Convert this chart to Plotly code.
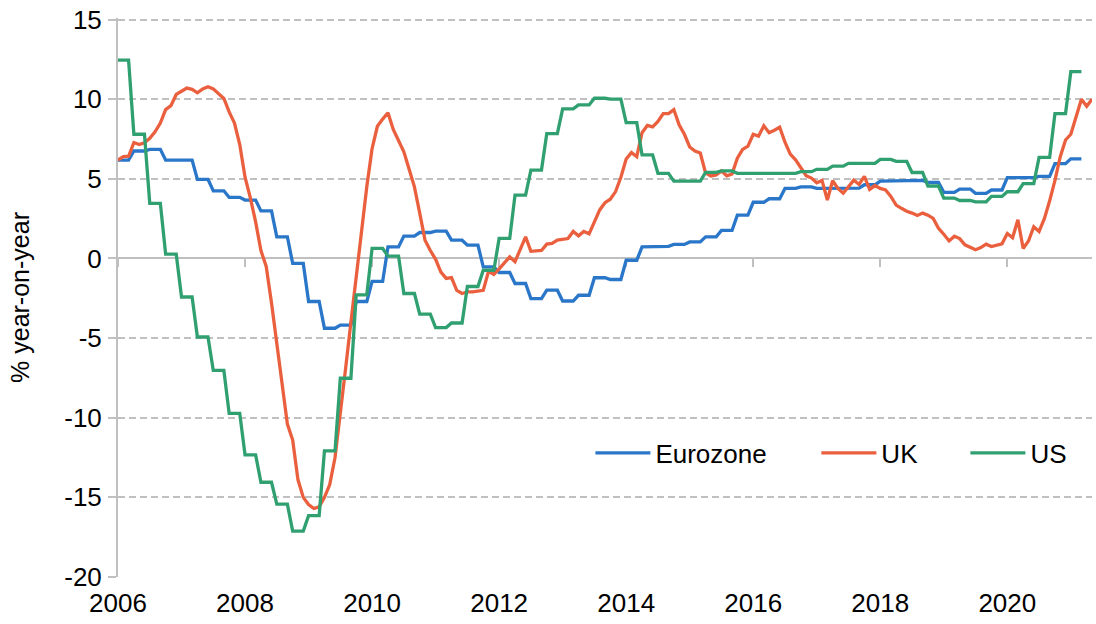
import plotly.graph_objects as go

# ---------------- data ----------------
start_year = 2006
n_months = 185  # Jan 2006 .. May 2021

tick_years = [2006, 2008, 2010, 2012, 2014, 2016, 2018, 2020]
tick_labels = ["2006", "2008", "2010", "2012", "2014", "2016", "2018", "2020"]
y_ticks = [-20, -15, -10, -5, 0, 5, 10, 15]
y_tick_labels = ["-20", "-15", "-10", "-5", "0", "5", "10", "15"]

# quarterly series, Q1 2006 .. Q1 2021 (shown monthly, held over each quarter)
eurozone_q = [
    6.18, 6.75, 6.85, 6.18,
    6.18, 4.97, 4.25, 3.84,
    3.67, 2.99, 1.36, -0.31,
    -2.70, -4.38, -4.18, -2.70,
    -1.44, 0.73, 1.41, 1.63,
    1.72, 1.15, 0.84, -0.53,
    -0.88, -1.57, -2.52, -1.99,
    -2.67, -2.31, -1.21, -1.32,
    -0.11, 0.73, 0.76, 0.88,
    1.04, 1.36, 1.76, 2.72,
    3.53, 3.75, 4.40, 4.50,
    4.40, 4.40, 4.42, 4.63,
    4.86, 4.88, 4.90, 4.78,
    4.15, 4.36, 4.09, 4.30,
    5.08, 5.08, 5.15, 5.95,
    6.26,
]

us_q = [
    12.45, 7.80, 3.46, 0.27,
    -2.42, -4.93, -7.03, -9.73,
    -12.33, -14.05, -15.43, -17.12,
    -16.15, -12.08, -7.52, -2.28,
    0.63, 0.15, -2.20, -3.50,
    -4.34, -4.05, -1.76, -0.74,
    1.26, 3.98, 5.55, 7.84,
    9.39, 9.64, 10.06, 10.00,
    8.53, 6.50, 5.35, 4.86,
    4.86, 5.41, 5.50, 5.35,
    5.35, 5.35, 5.35, 5.45,
    5.60, 5.80, 5.97, 5.97,
    6.22, 6.10, 5.40, 4.55,
    3.79, 3.64, 3.55, 3.90,
    4.19, 4.70, 6.35, 9.10,
    11.73,
]

# monthly series, Jan 2006 .. May 2021
uk_m = [
    6.18, 6.40, 6.42, 7.28, 7.15, 7.27, 7.55, 7.95, 8.50, 9.35,
    9.60, 10.30, 10.50, 10.70, 10.62, 10.40, 10.65, 10.78, 10.65, 10.35,
    10.05, 9.20, 8.50, 7.15, 5.10, 3.80, 2.30, 0.50, -0.50, -2.80,
    -5.30, -8.00, -10.40, -11.40, -13.90, -15.00, -15.45, -15.70, -15.60, -15.00,
    -14.20, -12.50, -9.90, -6.90, -4.00, -1.10, 1.80, 4.50, 6.90, 8.30,
    8.75, 9.15, 8.10, 7.45, 6.70, 5.60, 4.50, 2.85, 1.15, 0.50,
    -0.05, -0.85, -1.25, -1.20, -2.00, -2.20, -2.10, -2.10, -2.05, -2.00,
    -0.80, -1.00, -0.65, -0.25, 0.10, -0.20, 0.60, 1.36, 0.45, 0.50,
    0.50, 0.90, 0.94, 1.15, 1.20, 1.25, 1.70, 1.42, 1.70, 1.55,
    2.30, 3.05, 3.50, 3.72, 4.20, 5.10, 6.25, 6.65, 6.40, 7.90,
    8.35, 8.26, 8.60, 9.10, 9.10, 9.35, 8.40, 7.80, 7.00, 6.75,
    6.62, 5.37, 5.18, 5.24, 5.50, 5.19, 5.30, 6.30, 6.85, 7.05,
    7.80, 7.68, 8.33, 7.90, 8.05, 8.24, 7.30, 6.55, 6.20, 5.70,
    5.20, 5.05, 4.75, 4.90, 3.67, 4.88, 4.40, 4.10, 4.50, 4.92,
    4.65, 5.15, 4.34, 4.58, 4.40, 4.30, 3.90, 3.35, 3.15, 2.97,
    2.85, 2.70, 2.85, 2.72, 2.52, 1.90, 1.52, 1.10, 1.40, 1.25,
    0.86, 0.70, 0.55, 0.68, 0.90, 0.75, 0.82, 0.92, 1.57, 1.30,
    2.43, 0.63, 1.10, 1.99, 1.70, 2.50, 3.62, 4.90, 6.39, 7.44,
    7.80, 8.90, 10.00, 9.56, 10.00,
]

# ---------------- helpers ----------------
def month_x(m):
    return start_year + m / 12.0

def quarterly_to_monthly(values):
    xs, ys = [], []
    for q, v in enumerate(values):
        for k in range(3):
            xs.append(month_x(3 * q + k))
            ys.append(v)
    return xs, ys

ez_x, ez_y = quarterly_to_monthly(eurozone_q)
us_x, us_y = quarterly_to_monthly(us_q)
uk_x = [month_x(m) for m in range(len(uk_m))]

x_range = [start_year, month_x(n_months - 1)]
y_range = [-20, 15.1]

BLUE = "#2a77c9"
ORANGE = "#ea603e"
GREEN = "#31a071"
GRID = "#c0c0c0"
FONT = "Liberation Sans, Arial, sans-serif"

fig = go.Figure()
fig.add_trace(go.Scatter(x=ez_x, y=ez_y, mode="lines", name="Eurozone",
                         line=dict(color=BLUE, width=3.3), legend="legend"))
fig.add_trace(go.Scatter(x=uk_x, y=uk_m, mode="lines", name="UK",
                         line=dict(color=ORANGE, width=3.3), legend="legend2"))
fig.add_trace(go.Scatter(x=us_x, y=us_y, mode="lines", name="US", xaxis="x2",
                         line=dict(color=GREEN, width=3.3), legend="legend3"))

legend_common = dict(orientation="h", yanchor="middle", xanchor="left",
                     y=0.222, bgcolor="rgba(0,0,0,0)",
                     font=dict(size=26, color="#000000", family=FONT),
                     itemwidth=55)

fig.update_layout(
    width=1096, height=624,
    margin=dict(l=118, r=4, t=18, b=47),
    paper_bgcolor="white", plot_bgcolor="white",
    font=dict(family=FONT, color="#000000"),
    showlegend=True,
    legend=dict(x=0.485, **legend_common),
    legend2=dict(x=0.717, **legend_common),
    legend3=dict(x=0.870, **legend_common),
    xaxis=dict(
        range=x_range, tickvals=tick_years, ticktext=tick_labels,
        showgrid=False, showline=False, zeroline=False, ticks="",
        tickfont=dict(size=26, color="#000000"), ticklabelstandoff=8,
        ticklabeloverflow="allow",
        automargin=False, layer="below traces",
    ),
    xaxis2=dict(
        range=x_range, overlaying="x", anchor="free",
        position=(0 - y_range[0]) / (y_range[1] - y_range[0]),
        tickvals=tick_years, showticklabels=False, ticks="outside",
        ticklen=8, tickwidth=2, tickcolor=GRID,
        showline=True, linecolor=GRID, linewidth=2,
        showgrid=False, zeroline=False, automargin=False, layer="below traces",
    ),
    yaxis=dict(
        range=y_range, tickvals=y_ticks, ticktext=y_tick_labels,
        showgrid=True, gridcolor=GRID, gridwidth=1.6, griddash="7px,4px",
        zeroline=False, showline=True, linecolor=GRID, linewidth=2,
        ticks="outside", ticklen=8, tickwidth=2, tickcolor=GRID,
        tickfont=dict(size=26, color="#000000"), ticklabelstandoff=1,
        ticklabeloverflow="allow",
        title=dict(text="% year-on-year", font=dict(size=25, color="#000000"),
                   standoff=27),
        automargin=False, layer="below traces",
    ),
)

# remove the browser's default page margin so the figure sits at the window origin
fig.write_html(
    "out.html",
    config={"displayModeBar": False},
    post_script="document.body.style.margin='0';document.body.style.overflow='hidden';",
)
